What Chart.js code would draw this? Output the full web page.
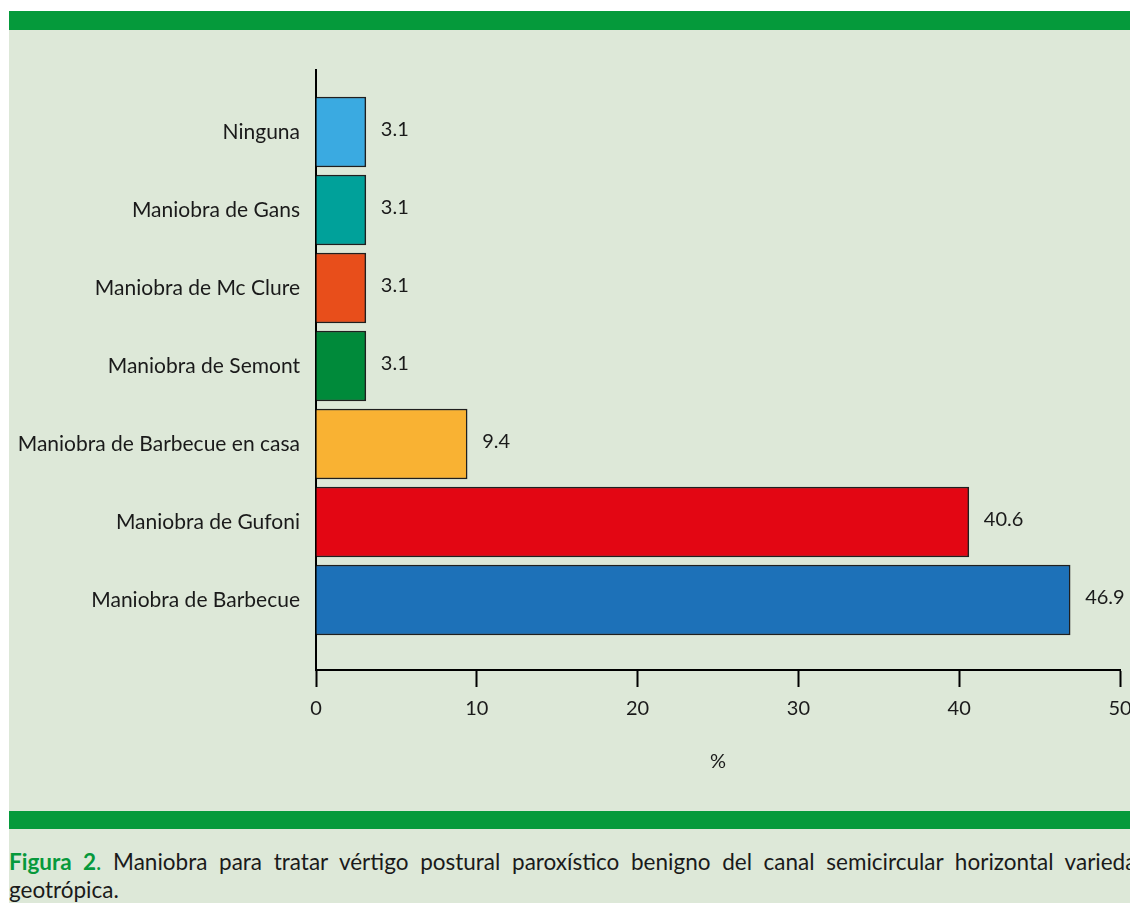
<!DOCTYPE html>
<html><head><meta charset="utf-8">
<script src="https://cdn.jsdelivr.net/npm/chart.js@4.4.0/dist/chart.umd.min.js"></script>
<style>
html,body{margin:0;padding:0;width:1130px;height:903px;overflow:hidden;background:#fff;}
#panel{position:absolute;left:9px;top:11px;width:1121px;height:892px;background:#dde8d8;overflow:hidden;}
.band{position:absolute;left:0;width:1121px;height:19px;background:#059a3b;}
#wrap{position:absolute;left:0;top:19px;width:1151px;height:781px;}
#caption{position:absolute;left:0;top:837px;width:1140px;font-family:Lato,sans-serif;font-size:22.5px;line-height:28px;color:#1a1a1a;text-align:justify;}
#caption .fig{color:#07993c;font-weight:bold;}
#caption .g{color:#07993c;}
</style></head>
<body>
<div id="panel">
  <div class="band" style="top:0"></div>
  <div id="wrap"><canvas id="c" width="1151" height="781"></canvas></div>
  <div class="band" style="top:800px;height:18px"></div>
  <div id="caption"><span class="fig">Figura 2</span><span class="g">.</span> Maniobra para tratar vértigo postural paroxístico benigno del canal semicircular horizontal variedad geotrópica.</div>
</div>
<script>
const categories = ["Ninguna","Maniobra de Gans","Maniobra de Mc Clure","Maniobra de Semont","Maniobra de Barbecue en casa","Maniobra de Gufoni","Maniobra de Barbecue"];
const values = [3.1, 3.1, 3.1, 3.1, 9.4, 40.6, 46.9];
const barColors = ["#3aaae1","#00a19a","#e84e1b","#008a3a","#f9b233","#e30613","#1d71b8"];
const xTicks = [0,10,20,30,40,50];
const axisTitle = "%";

const FONT = {family:"Lato", size:20};
const valueLabels = {
  id:'valueLabels',
  afterDatasetsDraw(chart){
    const ctx = chart.ctx; const meta = chart.getDatasetMeta(0);
    ctx.save();
    ctx.font = '20px Lato'; ctx.fillStyle = '#1a1a1a';
    ctx.textBaseline = 'middle'; ctx.textAlign = 'left';
    meta.data.forEach((bar,i)=>{ ctx.fillText(values[i].toFixed(1), bar.x + 15, bar.y - 2); });
    ctx.restore();
  }
};

function draw(){
  new Chart(document.getElementById('c'), {
    type:'bar',
    data:{
      datasets:[{
        data: values.map((v,i)=>({x:v, y:i})),
        backgroundColor: barColors,
        borderColor:'#1f1f1f',
        borderWidth:1.5,
        barThickness:70
      }]
    },
    options:{
      indexAxis:'y',
      responsive:false,
      animation:false,
      layout:{padding:{left:0,top:40,right:40,bottom:0}},
      plugins:{legend:{display:false}, tooltip:{enabled:false}},
      scales:{
        y:{
          type:'linear', reverse:true, offset:false, min:-0.795, max:6.897,
          afterBuildTicks: s => { s.ticks = categories.map((c,i)=>({value:i})); },
          afterFit: s => { s.width = 307; },
          ticks:{callback: v => categories[v], autoSkip:false, padding:16, color:'#1a1a1a', font:{family:"Lato", size:21}},
          grid:{display:true, drawOnChartArea:false, drawTicks:false, offset:false},
          border:{display:true, color:'#000', width:2}
        },
        x:{
          type:'linear', min:0, max:50,
          afterBuildTicks: s => { s.ticks = xTicks.map(v=>({value:v})); },
          afterFit: s => { s.height = 141; },
          ticks:{padding:10, color:'#1a1a1a', font:FONT, maxRotation:0},
          grid:{display:true, drawOnChartArea:false, drawTicks:true, tickLength:17, tickWidth:2, tickColor:'#000'},
          border:{display:true, color:'#000', width:2},
          title:{display:true, text:axisTitle, color:'#1a1a1a', font:FONT, padding:{top:0,bottom:37}}
        }
      }
    },
    plugins:[valueLabels]
  });
}
document.fonts.load('20px Lato').then(draw, draw);
</script>
</body></html>
